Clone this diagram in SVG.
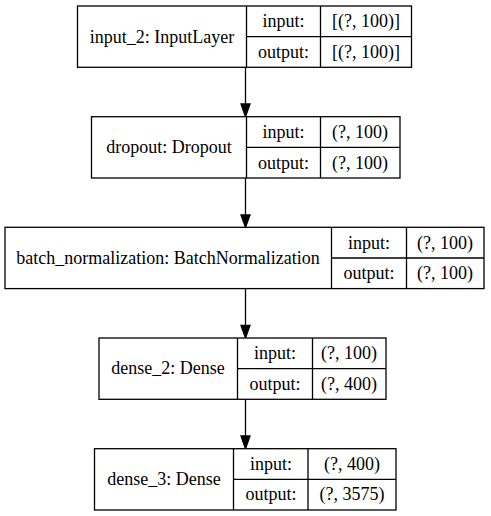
<svg xmlns="http://www.w3.org/2000/svg" width="491" height="516" viewBox="0 0 491 516">
<defs>
<style>
.b{fill:#fff;stroke:#000;stroke-width:1.3}
.l{stroke:#000;stroke-width:1.3;fill:none}
text{font-family:"Liberation Serif","Times New Roman",serif;font-size:18px;fill:#000;text-anchor:middle}
.e{stroke:#000;stroke-width:1.3;fill:none}
.h{fill:#000;stroke:#000;stroke-width:1.3}
</style>
</defs>
<rect width="491" height="516" fill="#fff"/>
<g id="connectors">
<path class="e" d="M245.5,67.3V104"/><polygon class="h" points="241,104 250,104 245.5,116.7"/>
<path class="e" d="M245.5,178V215"/><polygon class="h" points="241,215 250,215 245.5,227.3"/>
<path class="e" d="M245.5,288.7V325.5"/><polygon class="h" points="241,325.5 250,325.5 245.5,338"/>
<path class="e" d="M245.5,399.3V436"/><polygon class="h" points="241,436 250,436 245.5,448.7"/>
</g>
<g id="input_2">
<rect class="b" x="77.5" y="6" width="334" height="61.3"/>
<path class="l" d="M246.5,6V67.3M320.5,6V67.3M246.5,36.7H411.5"/>
<text x="162" y="42.5">input_2: InputLayer</text>
<text x="283.5" y="27">input:</text>
<text x="283.5" y="58">output:</text>
<text x="366" y="27">[(?, 100)]</text>
<text x="366" y="58">[(?, 100)]</text>
</g>
<g id="dropout">
<rect class="b" x="91.5" y="116.7" width="308.5" height="61.3"/>
<path class="l" d="M246.5,116.7V178M320.5,116.7V178M246.5,147.3H400"/>
<text x="169" y="153">dropout: Dropout</text>
<text x="283.5" y="138">input:</text>
<text x="283.5" y="168.5">output:</text>
<text x="360" y="138">(?, 100)</text>
<text x="360" y="168.5">(?, 100)</text>
</g>
<g id="batch_normalization">
<rect class="b" x="5" y="227.3" width="479" height="61.3"/>
<path class="l" d="M331.5,227.3V288.7M406.5,227.3V288.7M331.5,258H484"/>
<text x="168" y="263.5">batch_normalization: BatchNormalization</text>
<text x="369" y="248.5">input:</text>
<text x="369" y="279">output:</text>
<text x="445" y="248.5">(?, 100)</text>
<text x="445" y="279">(?, 100)</text>
</g>
<g id="dense_2">
<rect class="b" x="99" y="338" width="287" height="61.3"/>
<path class="l" d="M237.5,338V399.3M312.5,338V399.3M237.5,368.7H386"/>
<text x="168" y="374">dense_2: Dense</text>
<text x="275" y="359">input:</text>
<text x="275" y="389.5">output:</text>
<text x="349" y="359">(?, 100)</text>
<text x="349" y="389.5">(?, 400)</text>
</g>
<g id="dense_3">
<rect class="b" x="94.5" y="448.7" width="301.5" height="61.3"/>
<path class="l" d="M233.5,448.7V510M308,448.7V510M233.5,479.3H396"/>
<text x="164" y="485">dense_3: Dense</text>
<text x="271" y="470">input:</text>
<text x="271" y="500">output:</text>
<text x="352" y="470">(?, 400)</text>
<text x="352" y="500">(?, 3575)</text>
</g>
</svg>
